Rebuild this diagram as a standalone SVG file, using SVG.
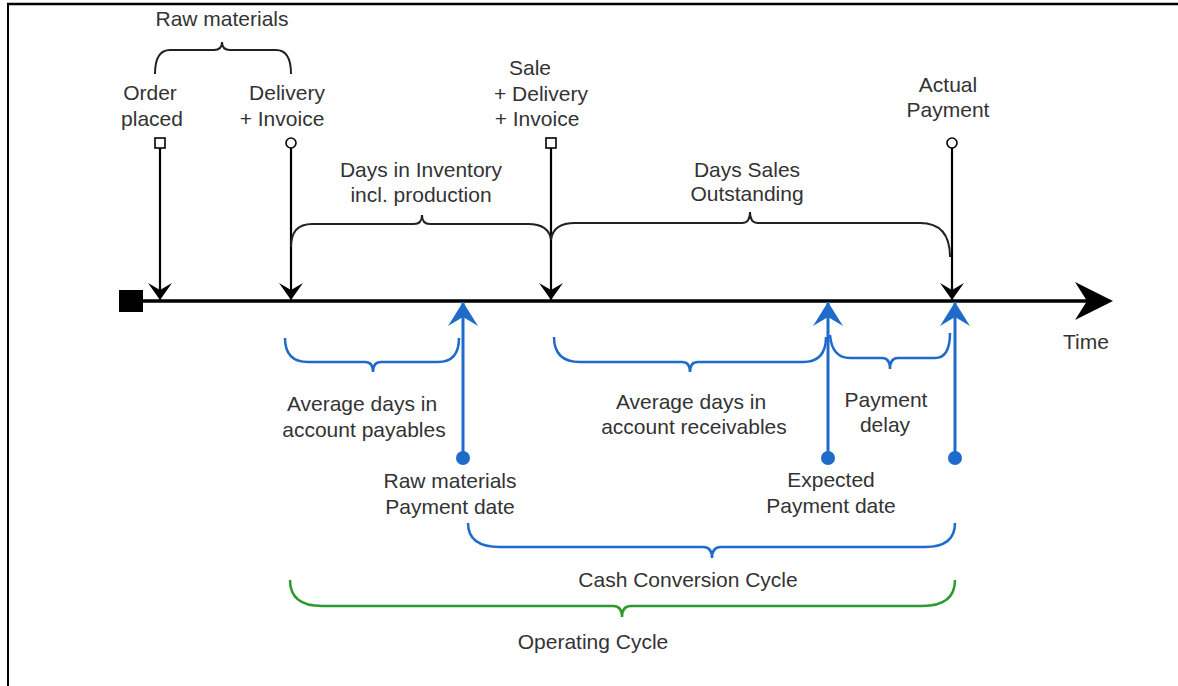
<svg xmlns="http://www.w3.org/2000/svg" width="1178" height="686" viewBox="0 0 1178 686">
<defs>
<style>
text{font-family:"Liberation Sans",Arial,sans-serif;font-size:21px;fill:#333;text-anchor:middle}
.blk{stroke:#000;stroke-width:2.2;fill:none}
.br{stroke:#222;stroke-width:2;fill:none}
.bl{stroke:#1f6bc9;stroke-width:3;fill:none}
.blb{stroke:#1f6bc9;stroke-width:2.5;fill:none}
.gr{stroke:#2d9a2d;stroke-width:2.5;fill:none}
.mk{fill:#fff;stroke:#000;stroke-width:1.6}
</style>
<marker id="ak" viewBox="0 0 17 24" refX="17" refY="12" markerWidth="17" markerHeight="24" markerUnits="userSpaceOnUse" orient="auto">
<path d="M0,0 L17,12 L0,24 L7,12 Z" fill="#000"/>
</marker>
<marker id="ab" viewBox="0 0 24 30" refX="24" refY="15" markerWidth="24" markerHeight="30" markerUnits="userSpaceOnUse" orient="auto">
<path d="M0,0 L24,15 L0,30 L9,15 Z" fill="#1f6bc9"/>
</marker>
</defs>
<rect width="1178" height="686" fill="#fff"/>
<g id="frame">
<line x1="7" y1="4" x2="1178" y2="4" stroke="#000" stroke-width="2.5"/>
<line x1="8" y1="3" x2="8" y2="686" stroke="#000" stroke-width="2"/>
</g>
<g id="timeline">
<rect x="119" y="290" width="24" height="22" fill="#000"/>
<line x1="143" y1="301" x2="1090" y2="301" stroke="#000" stroke-width="3.5"/>
<path d="M1075,282 L1113,301 L1075,320 L1087,301 Z" fill="#000"/>
<text x="1086" y="349">Time</text>
</g>
<g id="connectors">
<line class="blk" x1="160" y1="148" x2="160" y2="300" marker-end="url(#ak)"/>
<line class="blk" x1="291" y1="148" x2="291" y2="300" marker-end="url(#ak)"/>
<line class="blk" x1="551" y1="148" x2="551" y2="300" marker-end="url(#ak)"/>
<line class="blk" x1="952" y1="148" x2="952" y2="300" marker-end="url(#ak)"/>
<line class="bl" x1="463" y1="458" x2="463" y2="302" marker-end="url(#ab)"/>
<line class="bl" x1="828" y1="458" x2="828" y2="302" marker-end="url(#ab)"/>
<line class="bl" x1="955" y1="458" x2="955" y2="302" marker-end="url(#ab)"/>
</g>
<g id="order-placed">
<rect class="mk" x="155" y="138" width="10" height="10"/>
<text x="150" y="100">Order</text>
<text x="152" y="126">placed</text>
</g>
<g id="delivery-invoice">
<circle class="mk" cx="291" cy="143" r="5"/>
<text x="287" y="100">Delivery</text>
<text x="282" y="126">+ Invoice</text>
</g>
<g id="sale">
<rect class="mk" x="546" y="138" width="10" height="10"/>
<text x="530" y="75">Sale</text>
<text x="541" y="101">+ Delivery</text>
<text x="537" y="126">+ Invoice</text>
</g>
<g id="actual-payment">
<circle class="mk" cx="952" cy="143" r="5"/>
<text x="948" y="92">Actual</text>
<text x="948" y="117">Payment</text>
</g>
<g id="raw-materials-brace">
<path class="br" d="M155,74 Q155,50 170,50 L214,50 Q222,50 222,42 Q222,50 230,50 L276,50 Q291,50 291,74"/>
<text x="222" y="26">Raw materials</text>
</g>
<g id="days-inventory">
<path class="br" d="M291,247 Q291,224 312,224 L414,224 Q422,224 422,215 Q422,224 430,224 L528,224 Q549,224 551,240"/>
<text x="421" y="177">Days in Inventory</text>
<text x="421" y="202">incl. production</text>
</g>
<g id="days-sales-outstanding">
<path class="br" d="M551,240 Q553,223 575,223 L742,223 Q750,223 750,212 Q750,223 758,223 L920,223 Q950,223 950,257"/>
<text x="747" y="177">Days Sales</text>
<text x="747" y="201">Outstanding</text>
</g>
<g id="raw-materials-payment">
<circle cx="463" cy="458" r="7" fill="#1f6bc9"/>
<text x="450" y="488">Raw materials</text>
<text x="450" y="514">Payment date</text>
</g>
<g id="expected-payment">
<circle cx="828" cy="458" r="7" fill="#1f6bc9"/>
<text x="831" y="487">Expected</text>
<text x="831" y="513">Payment date</text>
</g>
<g id="actual-payment-dot">
<circle cx="955" cy="458" r="7" fill="#1f6bc9"/>
</g>
<g id="payables">
<path class="blb" d="M285,338 Q285,362 308,362 L365,362 Q373,362 373,372 Q373,362 381,362 L438,362 Q459,362 459,338"/>
<text x="362" y="411">Average days in</text>
<text x="364" y="437">account payables</text>
</g>
<g id="receivables">
<path class="blb" d="M554,337 Q554,362 580,362 L682,362 Q690,362 690,372 Q690,362 698,362 L803,362 Q826,362 826,337"/>
<text x="691" y="409">Average days in</text>
<text x="694" y="434">account receivables</text>
</g>
<g id="payment-delay">
<path class="blb" d="M830,335 Q832,358 850,358 L882,358 Q890,358 890,369 Q890,358 898,358 L935,358 Q950,358 950,333"/>
<text x="886" y="407">Payment</text>
<text x="885" y="432">delay</text>
</g>
<g id="cash-conversion-cycle">
<path class="blb" d="M468,523 Q468,547 500,547 L703,547 Q712,547 712,558 Q712,547 721,547 L925,547 Q955,547 955,523"/>
<text x="688" y="587">Cash Conversion Cycle</text>
</g>
<g id="operating-cycle">
<path class="gr" d="M290,580 Q290,606 322,606 L613,606 Q622,606 622,617 Q622,606 631,606 L922,606 Q955,606 955,580"/>
<text x="593" y="649">Operating Cycle</text>
</g>
</svg>
